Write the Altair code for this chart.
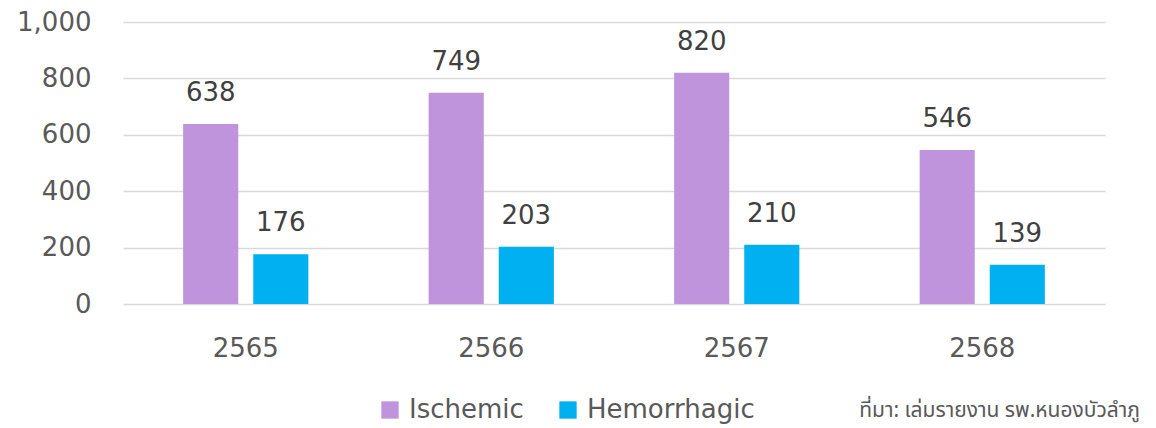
import altair as alt
import pandas as pd

years = ["2565", "2566", "2567", "2568"]
ischemic = [638, 749, 820, 546]
hemorrhagic = [176, 203, 210, 139]
series = ["Ischemic", "Hemorrhagic"]
colors = ["#BF94DD", "#00B0F0"]
source_text = "ที่มา: เล่มรายงาน รพ.หนองบัวลำภู"

rows = []
for i, y in enumerate(years):
    rows.append({"year": y, "type": series[0], "value": ischemic[i]})
    rows.append({"year": y, "type": series[1], "value": hemorrhagic[i]})
df = pd.DataFrame(rows)

FONT = "DejaVu Sans"
FS = 26
W, H = 982, 282

x_enc = alt.X("year:N", sort=years,
              scale=alt.Scale(paddingInner=0.49, paddingOuter=0.245),
              axis=alt.Axis(title=None, labelAngle=0, labelFontSize=FS, labelColor="#595959",
                            labelFont=FONT, labelPadding=31, ticks=False, domain=False,
                            grid=False))
xoff = alt.XOffset("type:N", sort=series, scale=alt.Scale(paddingInner=0.214, paddingOuter=0))
y_enc = alt.Y("value:Q", scale=alt.Scale(domain=[0, 1000], nice=False),
              axis=alt.Axis(title=None, values=[0, 200, 400, 600, 800, 1000], format=",.0f",
                            labelFontSize=FS, labelColor="#595959", labelFont=FONT,
                            labelPadding=32, ticks=False, domain=False,
                            gridColor="#D9D9D9", gridWidth=1.5))
color = alt.Color("type:N", sort=series,
                  scale=alt.Scale(domain=series, range=colors),
                  legend=alt.Legend(title=None, orient="none", direction="horizontal",
                                    legendX=254, legendY=375, symbolType="square",
                                    symbolSize=300, symbolStrokeWidth=0, labelFontSize=FS,
                                    labelFont=FONT, labelColor="#595959", columnPadding=31,
                                    labelOffset=6, labelLimit=400, padding=0))

base = alt.Chart(df)
bars = base.mark_bar().encode(x=x_enc, xOffset=xoff, y=y_enc, color=color)
labels = base.mark_text(fontSize=FS, font=FONT, color="#404040", baseline="alphabetic", dy=-23).encode(
    x=alt.X("year:N", sort=years), xOffset=alt.XOffset("type:N", sort=series),
    y=alt.Y("value:Q"), text="value:Q")

src = alt.Chart(pd.DataFrame({"t": [source_text]})).mark_text(
    fontSize=21, font="Noto Sans Thai, Noto Sans", color="#595959", align="right", baseline="middle"
).encode(x=alt.value(1017), y=alt.value(389), text="t:N")

chart = alt.layer(bars, labels, src).properties(
    width=W, height=H,
    background="white",
    autosize=alt.AutoSizeParams(type="none"),
    padding={"left": 115, "top": 14, "right": 43, "bottom": 122},
).configure_view(strokeWidth=0, stroke="transparent").configure_axis(domain=False)

chart.save("out.html", embed_options={"renderer": "svg", "actions": False})
